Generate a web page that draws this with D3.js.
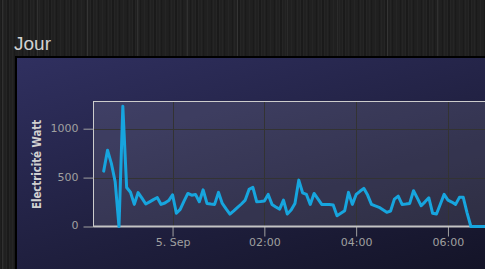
<!DOCTYPE html>
<html>
<head>
<meta charset="utf-8">
<script src="https://cdn.jsdelivr.net/npm/d3@7"></script>
<style>
html, body { margin: 0; padding: 0; width: 485px; height: 269px; overflow: hidden; }
body {
    background-color: #202020;
    background-image:
        repeating-linear-gradient(90deg, rgba(255,255,255,0.07) 0 1px, transparent 1px 50px),
        repeating-linear-gradient(90deg, rgba(255,255,255,0.025) 0 1px, transparent 1px 3px),
        repeating-linear-gradient(90deg, rgba(0,0,0,0.18) 0 2px, transparent 2px 7px);
    background-position: 37px 0, 0 0, 0 0;
}
svg { display: block; }
</style>
</head>
<body>
<script>
// data : 5 min samples starting 4 Sep 22:30
const startTime = Date.UTC(2014, 8, 4, 22, 30);
const stepMinutes = 5;
const watts = [
    566, 780, 645, 457, 0, 1230, 398, 350, 226, 347,
    290, 230, 252, 275, 296, 226, 240, 265, 325, 135,
    175, 260, 338, 320, 328, 253, 375, 236, 230, 226,
    349, 236, 180, 127, 160, 195, 230, 270, 379, 400,
    253, 255, 260, 328, 226, 200, 178, 270, 127, 168,
    236, 474, 345, 328, 226, 338, 282, 226, 225, 224,
    219, 110, 135, 161, 349, 226, 328, 360, 390, 321,
    226, 210, 196, 170, 145, 158, 280, 311, 226, 230,
    236, 365, 290, 212, 252, 294, 135, 127, 228, 328,
    270, 250, 226, 298, 298, 140, 0, 0, 0, 0,
    0, 0, 0, 0, 0, 0
];
const yTicks = [0, 500, 1000];
const yMax = 1278;
const chartTitle = "Jour";
const yTitle = "Electricité Watt";

const series = watts.map((v, i) => ({ t: new Date(startTime + i * stepMinutes * 60000), v: v }));

const W = 485, H = 269;
const plot = { left: 93.5, top: 101.5, bottom: 226.5 };
const pxPerHour = 45.9;
const plotStart = new Date(Date.UTC(2014, 8, 4, 22, 16, 40));
const plotEnd = new Date(plotStart.getTime() + 24 * 3600000);
plot.right = plot.left + 24 * pxPerHour;

const svg = d3.select("body").append("svg")
    .attr("width", W)
    .attr("height", H);

// title
svg.append("text")
    .attr("x", 14)
    .attr("y", 50)
    .attr("fill", "#d2d2d2")
    .style("font", "19px 'Liberation Sans', Arial, sans-serif")
    .text(chartTitle);

// chart panel
const defs = svg.append("defs");
const grad = defs.append("linearGradient")
    .attr("id", "panelGrad")
    .attr("x1", 0).attr("y1", 0).attr("x2", 1).attr("y2", 1);
grad.append("stop").attr("offset", 0).attr("stop-color", "rgb(48,48,96)");
grad.append("stop").attr("offset", 1).attr("stop-color", "rgb(0,0,0)");

svg.append("rect")
    .attr("x", 16).attr("y", 57)
    .attr("width", 1000).attr("height", 300)
    .attr("fill", "url(#panelGrad)")
    .attr("stroke", "#000")
    .attr("stroke-width", 2);

// scales
const x = d3.scaleUtc().domain([plotStart, plotEnd]).range([plot.left, plot.right]);
const y = d3.scaleLinear().domain([0, yMax]).range([plot.bottom, plot.top]);

// plot background
svg.append("rect")
    .attr("x", plot.left).attr("y", plot.top)
    .attr("width", plot.right - plot.left)
    .attr("height", plot.bottom - plot.top)
    .attr("fill", "rgba(255,255,255,0.1)");

const xTicks = x.ticks(d3.utcHour.every(2));
// only the ticks that fall inside the window get a label
const xTicksShown = xTicks.filter(d => x(d) < W - 20);

// grid
svg.append("g").selectAll("line").data(yTicks.filter(d => d > 0)).join("line")
    .attr("x1", plot.left).attr("x2", plot.right)
    .attr("y1", d => Math.round(y(d)) + 0.5).attr("y2", d => Math.round(y(d)) + 0.5)
    .attr("stroke", "#333333");
svg.append("g").selectAll("line").data(xTicks).join("line")
    .attr("x1", d => Math.round(x(d)) + 0.5).attr("x2", d => Math.round(x(d)) + 0.5)
    .attr("y1", plot.top).attr("y2", plot.bottom)
    .attr("stroke", "#333333");

// plot border
svg.append("rect")
    .attr("x", plot.left).attr("y", plot.top)
    .attr("width", plot.right - plot.left)
    .attr("height", plot.bottom - plot.top)
    .attr("fill", "none")
    .attr("stroke", "#cccccc");

// y axis
const fmtX = d => (d.getUTCHours() === 0 && d.getUTCMinutes() === 0) ? d3.utcFormat("%-d. %b")(d) : d3.utcFormat("%H:%M")(d);

const yAxis = svg.append("g")
    .attr("transform", "translate(" + plot.left + ",0)")
    .call(d3.axisLeft(y).tickValues(yTicks).tickFormat(d3.format("d")).tickSize(10).tickPadding(5));
yAxis.select(".domain").remove();
yAxis.selectAll(".tick line").attr("stroke", "#a0a0a0");
yAxis.selectAll(".tick text")
    .attr("dy", "0.22em")
    .attr("fill", "#a0a0a0")
    .style("font", "11px 'DejaVu Sans', sans-serif");

// x axis
const xAxis = svg.append("g")
    .attr("transform", "translate(0," + plot.bottom + ")")
    .call(d3.axisBottom(x).tickValues(xTicksShown).tickFormat(fmtX).tickSize(10).tickPadding(2));
xAxis.select(".domain").remove();
xAxis.selectAll(".tick line").attr("stroke", "#a0a0a0");
xAxis.selectAll(".tick text")
    .attr("fill", "#a0a0a0")
    .style("font", "11px 'DejaVu Sans', sans-serif");

svg.append("line")
    .attr("x1", plot.left).attr("x2", plot.right)
    .attr("y1", plot.bottom).attr("y2", plot.bottom)
    .attr("stroke", "#c4c4c4")
    .attr("stroke-width", 2);

// y title
svg.append("text")
    .attr("transform", "translate(40.5," + 164.5 + ") rotate(-90)")
    .attr("text-anchor", "middle")
    .attr("fill", "#d0d0d0")
    .attr("textLength", 89)
    .attr("lengthAdjust", "spacingAndGlyphs")
    .style("font", "bold 12px 'DejaVu Sans', sans-serif")
    .text(yTitle);

// series
const line = d3.line()
    .x(d => x(d.t))
    .y(d => y(d.v));

svg.append("path")
    .datum(series)
    .attr("d", line)
    .attr("fill", "none")
    .attr("stroke", "#17a5de")
    .attr("stroke-width", 3)
    .attr("stroke-linejoin", "round")
    .attr("stroke-linecap", "round");
</script>
</body>
</html>
